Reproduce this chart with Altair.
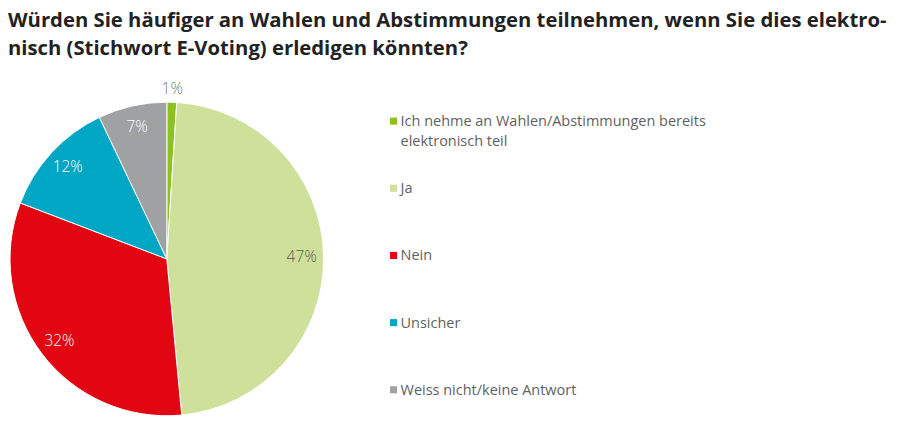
import altair as alt
import pandas as pd

categories = [
    "Ich nehme an Wahlen/Abstimmungen bereits\nelektronisch teil",
    "Ja",
    "Nein",
    "Unsicher",
    "Weiss nicht/keine Antwort",
]
keys = ["bereits", "ja", "nein", "unsicher", "weiss"]
values = [1, 47, 32, 12, 7]
colors = ["#8cc11f", "#cfe09a", "#e20613", "#00a7c4", "#a0a1a3"]

df = pd.DataFrame({"key": keys, "cat": categories, "value": values, "idx": list(range(len(keys)))})

CX, CY, R = 158, 200, 157
FONT = "Open Sans"

color_scale = alt.Scale(domain=keys, range=colors)

base = alt.Chart(df).transform_calculate(label="datum.value + '%'")

pie = base.mark_arc(radius=R, stroke="white", strokeWidth=1).encode(
    theta=alt.Theta("value:Q", stack=True),
    order=alt.Order("idx:Q"),
    color=alt.Color("key:N", scale=color_scale, legend=None),
    x=alt.value(CX),
    y=alt.value(CY),
)

inner_color = (
    alt.when(alt.datum.key == "bereits").then(alt.value("transparent"))
    .when(alt.datum.key == "ja").then(alt.value("#55604a"))
    .otherwise(alt.value("white"))
)

inner = base.mark_text(radius=135, fontSize=15.5, font=FONT, fontWeight=300).encode(
    theta=alt.Theta("value:Q", stack=True),
    order=alt.Order("idx:Q"),
    text="label:N",
    x=alt.value(CX),
    y=alt.value(CY),
    color=inner_color,
)

outer_color = alt.when(alt.datum.key == "bereits").then(alt.value("#7a7a7a")).otherwise(alt.value("transparent"))

outer = base.mark_text(radius=170, fontSize=15.5, font=FONT, fontWeight=300).encode(
    theta=alt.Theta("value:Q", stack=True),
    order=alt.Order("idx:Q"),
    text="label:N",
    x=alt.value(CX),
    y=alt.value(CY),
    color=outer_color,
)

ypos = alt.Y("key:N", scale=alt.Scale(type="point", domain=keys, range=[62, 331], padding=0), axis=None)

leg_sym = base.mark_square(size=50, opacity=1).encode(
    x=alt.value(385),
    y=ypos,
    color=alt.Color("key:N", scale=color_scale, legend=None),
)

leg_txt = base.mark_text(
    align="left", baseline="top", dy=-6, fontSize=14.5, font=FONT, color="#5f5f5f", lineBreak="\n", lineHeight=20
).encode(
    x=alt.value(392),
    y=ypos,
    text="cat:N",
)

chart = (
    alt.layer(pie, inner, outer, leg_sym, leg_txt)
    .properties(
        width=884,
        height=350,
        padding={"top": 2, "left": 0, "right": 0, "bottom": 0},
        title=alt.TitleParams(
            text=[
                "Würden Sie häufiger an Wahlen und Abstimmungen teilnehmen, wenn Sie dies elektro-",
                "nisch (Stichwort E-Voting) erledigen könnten?",
            ],
            anchor="start",
            fontSize=20.3,
            font=FONT,
            fontWeight="bold",
            color="#222222",
            lineHeight=28,
            offset=0,
        ),
    )
    .configure_view(stroke=None)
)

chart.save("out.html", embed_options={"renderer": "svg", "actions": False})
